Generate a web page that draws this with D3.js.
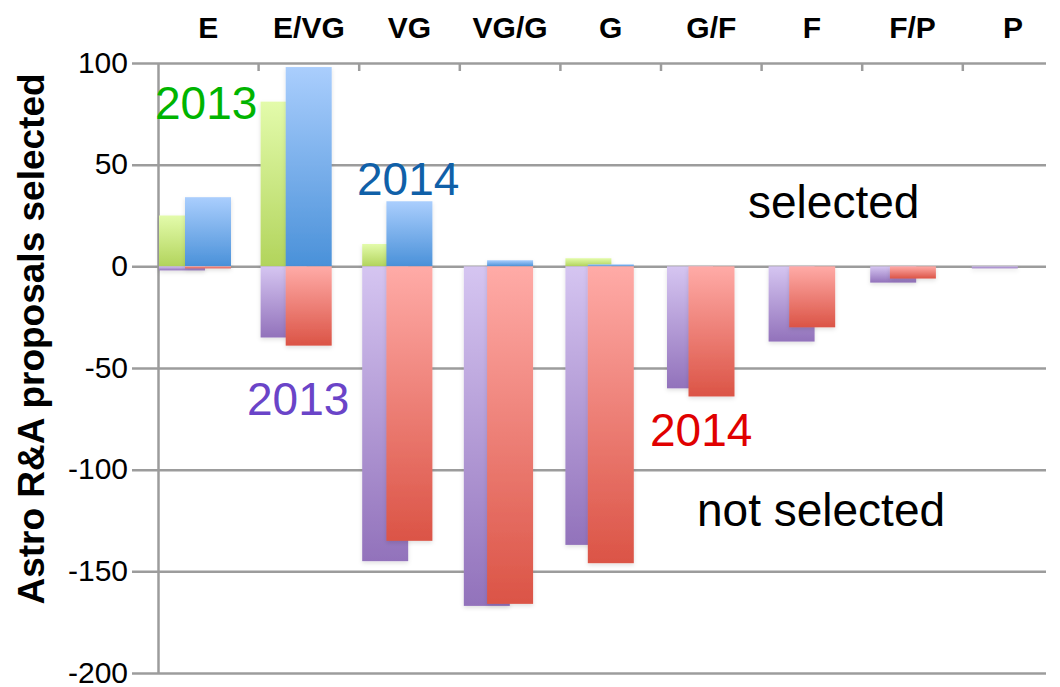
<!DOCTYPE html>
<html>
<head>
<meta charset="utf-8">
<script src="https://cdn.jsdelivr.net/npm/d3@7"></script>
<style>
  html, body { margin: 0; padding: 0; background: #fff; }
  svg { display: block; font-family: "Liberation Sans", Arial, sans-serif; }
</style>
</head>
<body>
<svg id="chart" width="1060" height="687"></svg>
<script>
// data
const categories = ["E", "E/VG", "VG", "VG/G", "G", "G/F", "F", "F/P", "P"];
const selected2013 = [25, 81, 11, 0, 4, 0, 0, 0, 0];
const selected2014 = [34, 98, 32, 3, 1, 0, 0, 0, 0];
const notSelected2013 = [-2, -35, -145, -167, -137, -60, -37, -8, -1];
const notSelected2014 = [-1, -39, -135, -166, -146, -64, -30, -6, 0];
const yTicks = [100, 50, 0, -50, -100, -150, -200];

const svg = d3.select("#chart");
const plotL = 158, plotR = 1046, plotT = 63, plotB = 673;

const y = d3.scaleLinear().domain([-200, 100]).range([plotB, plotT]);
// category bands (axis), the two years sit on slightly different grids
const xCat = d3.scaleBand().domain(categories).range([plotL, plotL + 9 * 100.6]);
const x13 = d3.scaleBand().domain(categories).range([plotL + 1, plotL + 1 + 9 * 101.6]);
const x14 = d3.scaleBand().domain(categories).range([plotL + 27, plotL + 27 + 9 * 100.7]);
const barW = 46;

const defs = svg.append("defs");
function grad(id, c1, c2) {
  const g = defs.append("linearGradient").attr("id", id)
    .attr("x1", 0).attr("y1", 0).attr("x2", 0).attr("y2", 1);
  g.append("stop").attr("offset", "0%").attr("stop-color", c1);
  g.append("stop").attr("offset", "100%").attr("stop-color", c2);
}
grad("gGreen", "#e3fbab", "#b2d45c");
grad("gBlue", "#aacefd", "#4a91d9");
grad("gPurple", "#d5c5f1", "#9272bb");
grad("gRed", "#ffaba7", "#db5446");

const shadow = defs.append("filter").attr("id", "shadow")
  .attr("x", "-20%").attr("y", "-20%").attr("width", "140%").attr("height", "160%");
shadow.append("feDropShadow").attr("dx", 0).attr("dy", 2).attr("stdDeviation", 2)
  .attr("flood-color", "#000").attr("flood-opacity", 0.12);

// y axis + gridlines (plain hyphen for negatives, like the original)
const yAxis = svg.append("g").attr("transform", `translate(${plotL},0)`)
  .call(d3.axisLeft(y).tickValues(yTicks).tickFormat(d => String(d))
    .tickSizeInner(-(plotR - plotL)).tickSizeOuter(0).tickPadding(30));
yAxis.select(".domain").attr("stroke", "#9c9c9c").attr("stroke-width", 2.5);
yAxis.selectAll(".tick line").attr("x1", -26).attr("stroke", "#9c9c9c").attr("stroke-width", 2.5);
yAxis.selectAll(".tick text")
  .attr("fill", "#000").attr("font-size", 30).attr("dy", "0.3em")
  .attr("font-family", "'Liberation Sans', Arial, sans-serif");

// top category axis
const xAxis = svg.append("g").attr("transform", `translate(0,${plotT})`)
  .call(d3.axisTop(xCat).tickSize(0).tickPadding(25));
xAxis.select(".domain").remove();
xAxis.selectAll(".tick text")
  .attr("fill", "#000").attr("font-size", 30).attr("font-weight", "bold")
  .attr("font-family", "'Liberation Sans', Arial, sans-serif");
svg.append("g").selectAll("line")
  .data(categories.slice(1))
  .join("line")
  .attr("x1", d => xCat(d)).attr("x2", d => xCat(d))
  .attr("y1", plotT).attr("y2", plotT + 8)
  .attr("stroke", "#9c9c9c").attr("stroke-width", 2.5);

// bars
function drawBars(values, xs, fill) {
  svg.append("g").attr("filter", "url(#shadow)")
    .selectAll("rect")
    .data(values.map((v, i) => ({ cat: categories[i], v: v })).filter(d => d.v !== 0))
    .join("rect")
    .attr("x", d => xs(d.cat))
    .attr("width", barW)
    .attr("y", d => y(Math.max(0, d.v)))
    .attr("height", d => Math.abs(y(d.v) - y(0)))
    .attr("fill", fill);
}
drawBars(selected2013, x13, "url(#gGreen)");
drawBars(notSelected2013, x13, "url(#gPurple)");
drawBars(selected2014, x14, "url(#gBlue)");
drawBars(notSelected2014, x14, "url(#gRed)");

// y title
svg.append("text")
  .attr("transform", "translate(44,339) rotate(-90)")
  .attr("text-anchor", "middle")
  .attr("font-size", 37).attr("font-weight", "bold")
  .text("Astro R&A proposals selected");

// annotations
const notes = [
  { t: "2013", x: 155, y: 119, c: "#00b400" },
  { t: "2014", x: 357, y: 195, c: "#1060a8" },
  { t: "selected", x: 748, y: 218, c: "#000" },
  { t: "2013", x: 247, y: 415, c: "#6a44c8" },
  { t: "2014", x: 650, y: 446, c: "#e00000" },
  { t: "not selected", x: 697, y: 526, c: "#000" }
];
svg.append("g").selectAll("text")
  .data(notes)
  .join("text")
  .attr("x", d => d.x).attr("y", d => d.y)
  .attr("fill", d => d.c)
  .attr("font-size", 46)
  .text(d => d.t);
</script>
</body>
</html>
